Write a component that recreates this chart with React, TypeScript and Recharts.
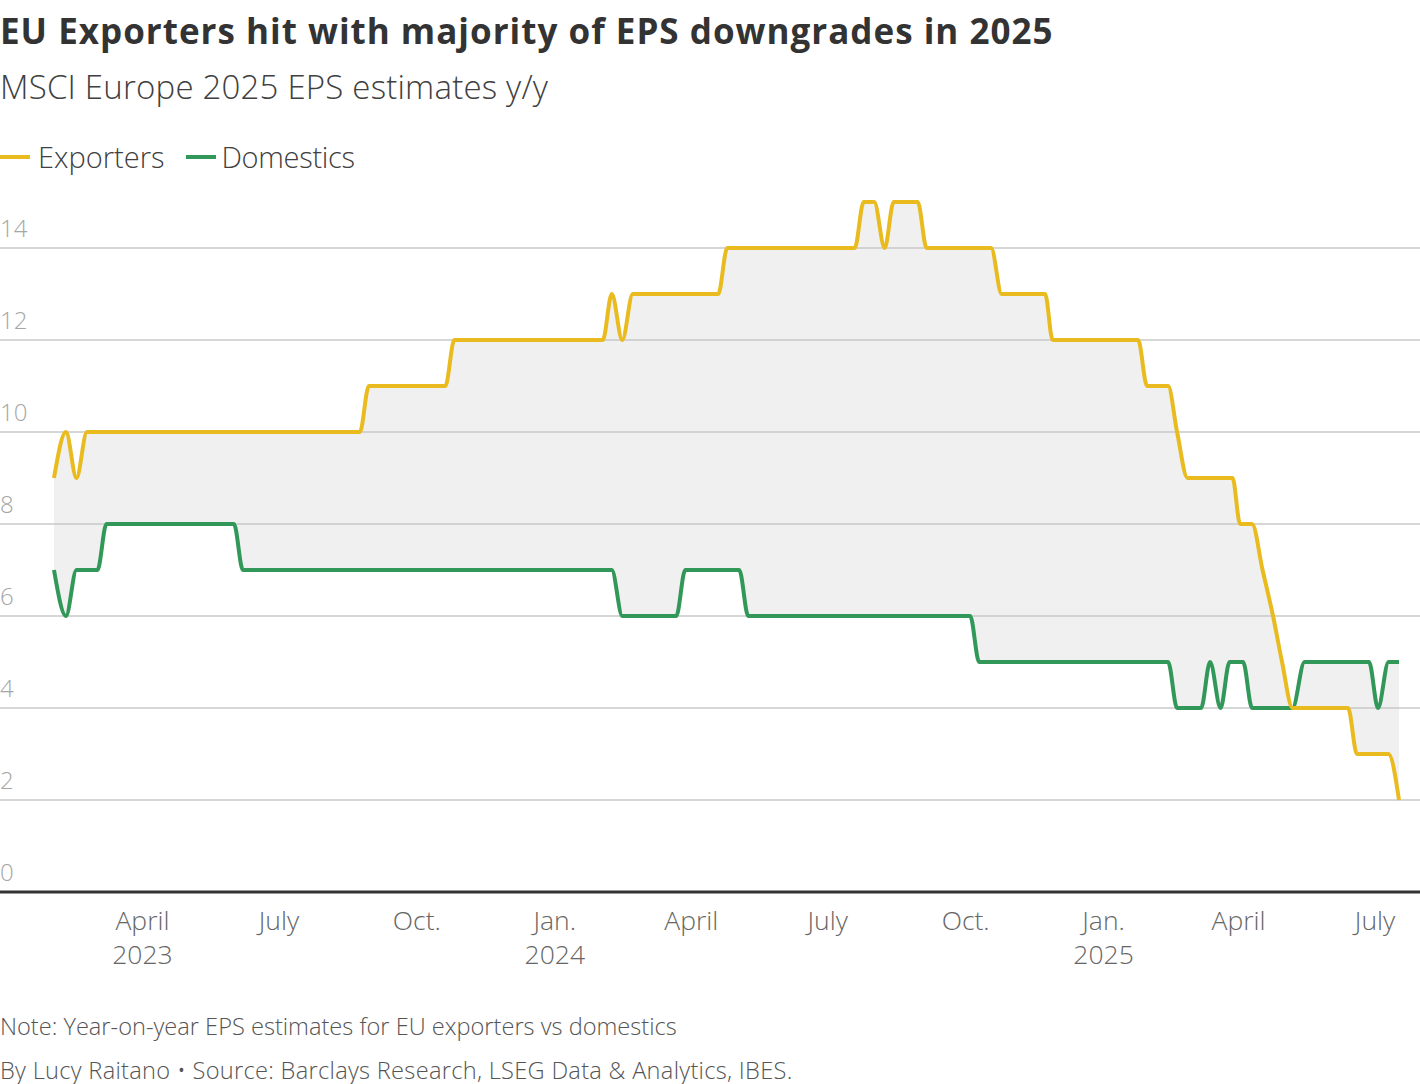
import React from "react";
import {
  ComposedChart,
  Area,
  Line,
  XAxis,
  YAxis,
  ReferenceLine,
} from "recharts";

// readings taken at each turn of either line
const dates = [
  "2023-02-01", "2023-02-09", "2023-02-16", "2023-02-23", "2023-03-02", "2023-03-08",
  "2023-06-01", "2023-06-07", "2023-08-24", "2023-08-30", "2023-10-20", "2023-10-26",
  "2024-02-02", "2024-02-08", "2024-02-15", "2024-02-22", "2024-03-22", "2024-03-28",
  "2024-04-19", "2024-04-25", "2024-05-03", "2024-05-09", "2024-07-19", "2024-07-25",
  "2024-08-01", "2024-08-08", "2024-08-14", "2024-08-30", "2024-09-05", "2024-10-04",
  "2024-10-10", "2024-10-18", "2024-10-25", "2024-11-23", "2024-11-28", "2025-01-24",
  "2025-01-30", "2025-02-13", "2025-02-19", "2025-02-26", "2025-03-07", "2025-03-13",
  "2025-03-20", "2025-03-26", "2025-03-28", "2025-04-02", "2025-04-04", "2025-04-10",
  "2025-04-17", "2025-04-24", "2025-04-30", "2025-05-07", "2025-05-15", "2025-06-13",
  "2025-06-19", "2025-06-27", "2025-07-03", "2025-07-10", "2025-07-17",
];

const exporters = [
  9, 10, 9, 10, 10, 10,
  10, 10, 10, 11, 11, 12,
  12, 13, 12, 13, 13, 13,
  13, 14, 14, 14, 14, 15,
  15, 14, 15, 15, 14, 14,
  14, 14, 13, 13, 12, 12,
  11, 11, 10, 9, 9, 9,
  9, 9, 9, 8, 8, 8,
  7, 6, 5, 4, 4, 4,
  3, 3, 3, 3, 2,
];

const domestics = [
  7, 6, 7, 7, 7, 8,
  8, 7, 7, 7, 7, 7,
  7, 7, 6, 6, 6, 7,
  7, 7, 7, 6, 6, 6,
  6, 6, 6, 6, 6, 6,
  5, 5, 5, 5, 5, 5,
  5, 5, 4, 4, 4, 5,
  4, 5, 5, 5, 5, 4,
  4, 4, 4, 4, 5, 5,
  5, 5, 4, 5, 5,
];

const tickDates = [
  "2023-04-01", "2023-07-01", "2023-10-01", "2024-01-01", "2024-04-01",
  "2024-07-01", "2024-10-01", "2025-01-01", "2025-04-01", "2025-07-01",
];
const tickMonths = ["April", "July", "Oct.", "Jan.", "April", "July", "Oct.", "Jan.", "April", "July"];
const tickYears = ["2023", "", "", "2024", "", "", "", "2025", "", ""];

const yTicks = [0, 2, 4, 6, 8, 10, 12, 14];

const data = dates.map((d, i) => ({
  t: Date.parse(d),
  exporters: exporters[i],
  domestics: domestics[i],
}));

const xTicks = tickDates.map((d) => Date.parse(d));

const YELLOW = "#e9bb1f";
const GREEN = "#31985a";
const FONT = "'Open Sans', 'Noto Sans', sans-serif";

if (typeof document !== "undefined") document.body.style.margin = "0";

const XTick = (props: any) => {
  const { x, y, payload } = props;
  const i = xTicks.indexOf(payload.value);
  return (
    <text x={x} textAnchor="middle" fill="#666" fontSize={26.5} fontFamily={FONT} fontWeight={300}>
      <tspan x={x} y={y + 30}>{tickMonths[i]}</tspan>
      {tickYears[i] ? <tspan x={x} y={y + 64}>{tickYears[i]}</tspan> : null}
    </text>
  );
};

const YLabel = (props: any) => {
  const { viewBox, value } = props;
  return (
    <text x={0} y={viewBox.y - 11} fill="#a6a6a6" fontSize={24} fontFamily={FONT} fontWeight={300}>
      {value}
    </text>
  );
};

export default function App() {
  return (
    <div style={{ position: "relative", width: 1420, height: 1084, background: "#fff", fontFamily: FONT }}>
      <div style={{ position: "absolute", left: 0, top: 7, fontSize: 35, fontWeight: 700, letterSpacing: 1, color: "#333", whiteSpace: "nowrap" }}>
        EU Exporters hit with majority of EPS downgrades in 2025
      </div>
      <div style={{ position: "absolute", left: 0, top: 64, fontSize: 33, fontWeight: 300, letterSpacing: 0.2, color: "#404040", whiteSpace: "nowrap" }}>
        MSCI Europe 2025 EPS estimates y/y
      </div>
      <div style={{ position: "absolute", left: 0, top: 137, fontSize: 29, fontWeight: 300, color: "#404040", display: "flex", alignItems: "center", whiteSpace: "nowrap" }}>
        <span style={{ display: "inline-block", width: 30, height: 4, background: YELLOW, marginRight: 8 }} />
        <span>Exporters</span>
        <span style={{ display: "inline-block", width: 30, height: 4, background: GREEN, marginLeft: 22, marginRight: 5 }} />
        <span style={{ letterSpacing: -0.3 }}>Domestics</span>
      </div>

      <div style={{ position: "absolute", left: 0, top: 180 }}>
        <ComposedChart
          width={1420}
          height={800}
          data={data}
          margin={{ top: 22, right: 0, bottom: 8, left: 0 }}
        >
          <XAxis
            dataKey="t"
            type="number"
            scale="time"
            domain={[Date.parse("2022-12-27"), Date.parse("2025-07-31")]}
            ticks={xTicks}
            tick={<XTick />}
            tickLine={false}
            axisLine={false}
            height={80}
            interval={0}
          />
          <YAxis type="number" domain={[0, 15]} hide />
          <Area
            type="monotone"
            dataKey={(d: any) => [d.domestics, d.exporters]}
            stroke="none"
            fill="#000"
            fillOpacity={0.06}
            isAnimationActive={false}
          />
          {yTicks.map((v) => (
            <ReferenceLine
              key={v}
              y={v}
              stroke={v === 0 ? "#333" : "#c8c8c8"}
              strokeWidth={v === 0 ? 3 : 1.5}
              label={<YLabel value={v} />}
            />
          ))}
          <Line
            type="monotone"
            dataKey="domestics"
            stroke={GREEN}
            strokeWidth={4}
            dot={false}
            isAnimationActive={false}
          />
          <Line
            type="monotone"
            dataKey="exporters"
            stroke={YELLOW}
            strokeWidth={4}
            dot={false}
            isAnimationActive={false}
          />
        </ComposedChart>
      </div>

      <div style={{ position: "absolute", left: 0, top: 1010, fontSize: 23.6, fontWeight: 300, color: "#555", whiteSpace: "nowrap" }}>
        Note: Year-on-year EPS estimates for EU exporters vs domestics
      </div>
      <div style={{ position: "absolute", left: 0, top: 1054, fontSize: 23.6, fontWeight: 300, letterSpacing: 0.3, color: "#555", whiteSpace: "nowrap" }}>
        By Lucy Raitano • Source: Barclays Research, LSEG Data &amp; Analytics, IBES.
      </div>
    </div>
  );
}
